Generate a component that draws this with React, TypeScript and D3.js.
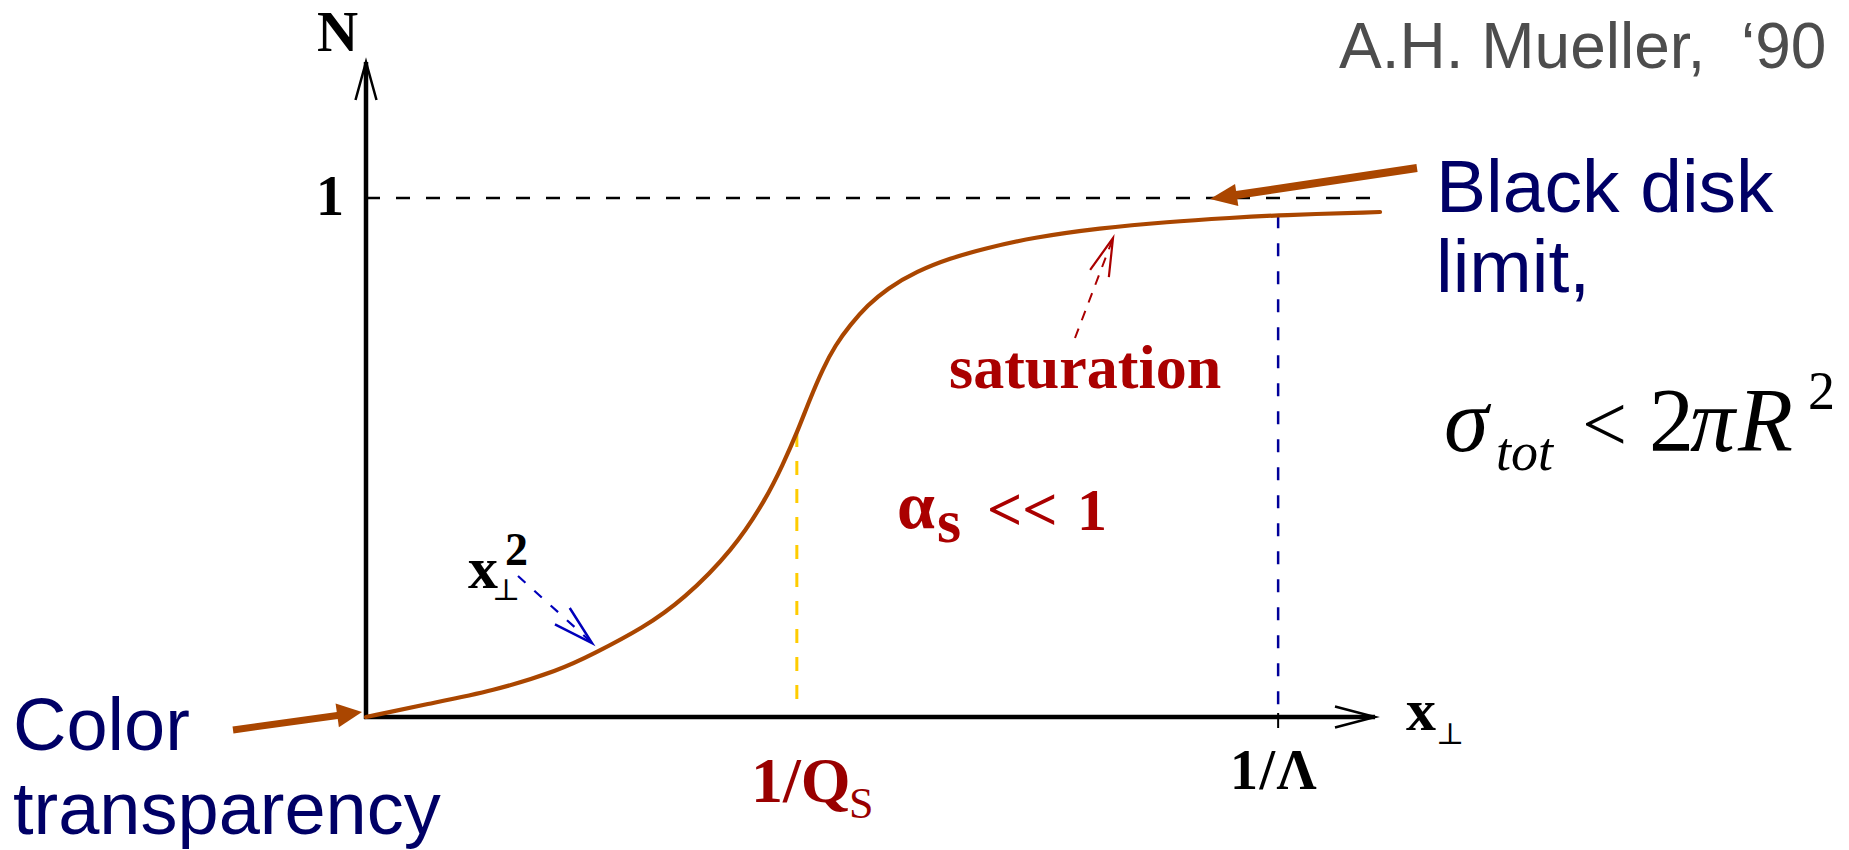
import React from "react";
import * as d3 from "d3";

// Dipole scattering amplitude N versus transverse size x⊥ (schematic)
const xPerp = [0, 0.0605, 0.126, 0.192, 0.225, 0.275, 0.314, 0.364, 0.397, 0.413, 0.427, 0.44, 0.453, 0.465, 0.48, 0.497, 0.516, 0.546, 0.579, 0.612, 0.661, 0.727, 0.794, 0.859, 0.904, 1.005];
const dipoleN = [0, 0.025, 0.05, 0.09, 0.121, 0.172, 0.225, 0.322, 0.422, 0.486, 0.547, 0.613, 0.672, 0.716, 0.756, 0.793, 0.825, 0.859, 0.884, 0.902, 0.924, 0.942, 0.954, 0.962, 0.967, 0.973];

// Characteristic scales on the x⊥ axis: saturation radius and confinement radius
const saturationScale = 0.427;
const confinementScale = 0.904;
const unitLevel = 1;

const W = 1849;
const H = 850;

const SERIF = "'Liberation Serif', 'Times New Roman', serif";
const SANS = "'Liberation Sans', Arial, sans-serif";
const SYMBOL = "'DejaVu Serif', 'Liberation Serif', serif";

const BROWN = "#AA4600";
const NAVY = "#000066";
const RED = "#AA0000";
const QS_RED = "#990000";

const x = d3.scaleLinear().domain([0, 1]).range([366, 1375]);
const y = d3.scaleLinear().domain([0, 1]).range([717, 198]);

const curvePath = d3
  .line<number>()
  .x((_, i) => x(xPerp[i]))
  .y((d) => y(d))
  .curve(d3.curveBasis)(dipoleN) as string;

// N at a given x⊥
function nAt(v: number): number {
  const i = d3.bisectLeft(xPerp, v);
  if (i <= 0) return dipoleN[0];
  if (i >= xPerp.length) return dipoleN[dipoleN.length - 1];
  const t = (v - xPerp[i - 1]) / (xPerp[i] - xPerp[i - 1]);
  return dipoleN[i - 1] + t * (dipoleN[i] - dipoleN[i - 1]);
}

function openHead(fx: number, fy: number, tx: number, ty: number, len: number, half: number): string {
  const dx = tx - fx;
  const dy = ty - fy;
  const L = Math.hypot(dx, dy);
  const ux = dx / L;
  const uy = dy / L;
  const bx = tx - ux * len;
  const by = ty - uy * len;
  return `M${bx - uy * half},${by + ux * half}L${tx},${ty}L${bx + uy * half},${by - ux * half}`;
}

function FilledArrow(props: { fx: number; fy: number; tx: number; ty: number; len: number; half: number; width: number; color: string }) {
  const { fx, fy, tx, ty, len, half, width, color } = props;
  const dx = tx - fx;
  const dy = ty - fy;
  const L = Math.hypot(dx, dy);
  const ux = dx / L;
  const uy = dy / L;
  const bx = tx - ux * len;
  const by = ty - uy * len;
  const pts = `${tx},${ty} ${bx - uy * half},${by + ux * half} ${bx + uy * half},${by - ux * half}`;
  return (
    <g>
      <line x1={fx} y1={fy} x2={bx + ux * 2} y2={by + uy * 2} stroke={color} strokeWidth={width} />
      <polygon points={pts} fill={color} />
    </g>
  );
}

export default function App() {
  const x0 = x(0);
  const y0 = y(0);
  const xEnd = x(1);
  const yTop = 62;
  const qsX = x(saturationScale);
  const lamX = x(confinementScale);

  return (
    <svg
      width={W}
      height={H}
      viewBox={`0 0 ${W} ${H}`}
      style={{ position: "absolute", left: 0, top: 0, display: "block", background: "#fff" }}
    >
      <rect x={0} y={0} width={W} height={H} fill="#fff" />

      {/* N = 1 reference level */}
      <line
        x1={x0}
        y1={y(unitLevel)}
        x2={x(1.005)}
        y2={y(unitLevel)}
        stroke="#000"
        strokeWidth={2.5}
        strokeDasharray="14,16"
      />

      {/* scale markers */}
      <line
        x1={qsX}
        y1={y(nAt(saturationScale))}
        x2={qsX}
        y2={y0 - 14}
        stroke="#FFCC00"
        strokeWidth={3}
        strokeDasharray="14,14"
      />
      <line
        x1={lamX}
        y1={y(nAt(confinementScale))}
        x2={lamX}
        y2={y0 - 4}
        stroke="#000099"
        strokeWidth={2.5}
        strokeDasharray="13,15"
      />
      <line x1={lamX} y1={y0 - 4} x2={lamX} y2={y0 + 11} stroke="#000" strokeWidth={2} />

      {/* axes */}
      <line x1={x0} y1={y0 + 2} x2={x0} y2={yTop} stroke="#000" strokeWidth={4.5} />
      <path d={openHead(x0, y0, x0, yTop, 38, 10.5)} fill="none" stroke="#000" strokeWidth={2.5} />
      <line x1={x0 - 2} y1={y0} x2={xEnd} y2={y0} stroke="#000" strokeWidth={4.5} />
      <path d={openHead(x0, y0, xEnd, y0, 40, 10.5)} fill="none" stroke="#000" strokeWidth={2.5} />

      {/* amplitude curve */}
      <path d={curvePath} fill="none" stroke={BROWN} strokeWidth={4.2} strokeLinejoin="round" strokeLinecap="round" />

      {/* axis labels */}
      <text x={317} y={51} fontFamily={SERIF} fontWeight="bold" fontSize={57} fill="#000">N</text>
      <text x={344} y={215} textAnchor="end" fontFamily={SERIF} fontWeight="bold" fontSize={56} fill="#000">1</text>
      <text x={1406} y={730} fontFamily={SERIF} fontWeight="bold" fontSize={60} fill="#000">x</text>
      <text x={1436} y={744} fontFamily={SYMBOL} fontSize={30} fill="#000">⊥</text>

      {/* scale labels */}
      <text x={751} y={802} fontFamily={SERIF} fontWeight="bold" fontSize={64} fill={QS_RED}>1/Q</text>
      <text x={849} y={818} fontFamily={SERIF} fontSize={44} fill={QS_RED}>S</text>
      <text x={1230} y={789} fontFamily={SERIF} fontWeight="bold" fontSize={56} letterSpacing={1.5} fill="#000">1/Λ</text>

      {/* small-size behaviour */}
      <text x={468} y={588} fontFamily={SERIF} fontWeight="bold" fontSize={60} fill="#000">x</text>
      <text x={492} y={600} fontFamily={SYMBOL} fontSize={30} fill="#000">⊥</text>
      <text x={505} y={565} fontFamily={SERIF} fontWeight="bold" fontSize={46} fill="#000">2</text>
      <line x1={518} y1={576} x2={590} y2={641} stroke="#0000BB" strokeWidth={2.2} strokeDasharray="10,12" />
      <path d={openHead(518, 576, 592, 643, 40, 11)} fill="none" stroke="#0000BB" strokeWidth={2.5} />

      {/* saturation annotation */}
      <line x1={1075} y1={338} x2={1112} y2={241} stroke={RED} strokeWidth={2} strokeDasharray="10,9" />
      <path d={openHead(1075, 338, 1113, 238, 38, 10)} fill="none" stroke={RED} strokeWidth={2.2} />
      <text x={949} y={388} fontFamily={SERIF} fontWeight="bold" fontSize={62} fill={RED}>saturation</text>

      {/* weak coupling */}
      <text x={897} y={528} fontFamily={SERIF} fontWeight="bold" fontSize={68} fill={RED}>α</text>
      <text x={937} y={542} fontFamily={SERIF} fontWeight="bold" fontSize={62} fill={RED}>s</text>
      <text x={987} y={530} fontFamily={SERIF} fontWeight="bold" fontSize={62} fill={RED}>&lt;&lt;</text>
      <text x={1077} y={530} fontFamily={SERIF} fontWeight="bold" fontSize={60} fill={RED}>1</text>

      {/* limits */}
      <FilledArrow fx={233} fy={730} tx={362} ty={712} len={25} half={12} width={7} color={BROWN} />
      <text x={13} y={750} fontFamily={SANS} fontSize={74} fill={NAVY}>Color</text>
      <text x={13} y={834} fontFamily={SANS} fontSize={74} fill={NAVY}>transparency</text>

      <FilledArrow fx={1417} fy={168} tx={1210} ty={199} len={27} half={11} width={8} color={BROWN} />
      <text x={1436} y={212} fontFamily={SANS} fontSize={75} fill={NAVY}>Black disk</text>
      <text x={1436} y={292} fontFamily={SANS} fontSize={75} fill={NAVY}>limit,</text>

      {/* unitarity bound */}
      <text x={1444} y={451} fontFamily={SERIF} fontStyle="italic" fontSize={90} fill="#000">σ</text>
      <text x={1496} y={470} fontFamily={SERIF} fontStyle="italic" fontSize={54} fill="#000">tot</text>
      <text x={1582} y={451} fontFamily={SERIF} fontSize={80} fill="#000">&lt;</text>
      <text x={1649} y={451} fontFamily={SERIF} fontSize={90} fill="#000">2</text>
      <text x={1690} y={451} fontFamily={SERIF} fontStyle="italic" fontSize={90} fill="#000">π</text>
      <text x={1738} y={451} fontFamily={SERIF} fontStyle="italic" fontSize={90} fill="#000">R</text>
      <text x={1808} y={409} fontFamily={SERIF} fontSize={54} fill="#000">2</text>

      {/* attribution */}
      <text x={1339} y={68} fontFamily={SANS} fontSize={64} fill="#4D4D4D" style={{ whiteSpace: "pre" }}>
        {"A.H. Mueller,  \u201890"}
      </text>
    </svg>
  );
}
